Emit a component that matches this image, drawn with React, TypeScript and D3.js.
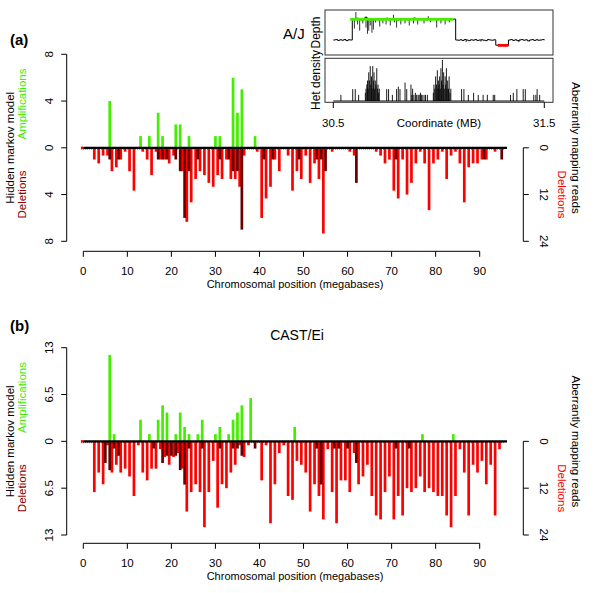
import React from "react";
import * as d3 from "d3";

const FONT = "'Liberation Sans', Arial, Helvetica, sans-serif";
const GREEN = "#44ee00";
const RED = "#ff0000";
const DARK = "#680000";
const DARK_TEXT = "#8b0000";

// ---------- Axis ticks ----------
const xTicks = [0, 10, 20, 30, 40, 50, 60, 70, 80, 90];
const ajLeftTicks = [8, 4, 0, -4, -8];
const castLeftTicks = [13, 6.5, 0, -6.5, -13];
const rightTicks = [0, 12, 24];
const insetTicks = [30.5, 31.5];

// ---------- A/J : [megabase, value] ----------
const ajAmplifications: [number, number][] = [
  [6, 4], [13, 1], [15, 1], [17, 3], [18, 1], [21, 2], [22, 2], [24, 1], [30, 1], [31, 1],
  [34, 6], [35, 3], [36, 5], [39, 1],
];
const ajHmmDeletions: [number, number][] = [
  [6, 1], [8, 1], [17, 1], [18, 1], [19, 1], [21, 1], [22, 2], [23, 6], [24, 2], [26, 1],
  [31, 1], [33, 1], [34, 2], [35, 2], [36, 7], [41, 1], [43, 1], [49, 1], [53, 1], [54, 1],
  [55, 2], [62, 3], [71, 1], [91, 1], [95, 1],
];
const ajReadDeletions: [number, number][] = [
  [2.5, 3], [3.5, 4], [4.5, 2], [5.5, 2], [6.5, 6], [7.5, 5], [8.5, 3], [9.5, 1], [10.5, 6], [11.5, 11],
  [13.5, 1], [14.5, 3], [15.5, 7], [16.5, 1], [17.5, 3], [18.5, 3], [19.5, 4], [20.5, 2],
  [22.5, 6], [23.5, 19], [24.5, 14], [25.5, 8], [26.5, 6], [27.5, 7], [28.5, 9], [29.5, 10], [30.5, 7],
  [31.5, 8], [32.5, 3], [33.5, 8], [34.5, 8], [35.5, 10], [36.5, 2],
  [39.5, 1], [40.5, 18], [41.5, 13], [42.5, 10], [43.5, 3], [44.5, 6],
  [46.5, 2], [47.5, 11], [48.5, 6], [49.5, 8], [50.5, 2], [51.5, 9], [52.5, 4], [53.5, 8], [54.5, 22],
  [56.5, 1], [60.5, 1], [61.5, 2],
  [66.5, 1], [67.5, 2], [68.5, 4], [69.5, 3], [70.5, 11], [71.5, 13], [72.5, 3], [73.5, 12], [74.5, 9],
  [75.5, 4], [76.5, 1], [77.5, 4], [78.5, 16], [79.5, 4], [80.5, 3], [81.5, 1], [82.5, 8], [83.5, 2],
  [84.5, 1], [85.5, 4], [86.5, 14], [87.5, 5], [88.5, 4], [89.5, 4], [90.5, 3], [91.5, 3], [93.5, 1],
];

// ---------- CAST/Ei ----------
const castAmplifications: [number, number][] = [
  [6, 12], [7, 1], [13, 3], [15, 1], [17, 3], [18, 5], [19, 4], [21, 1], [22, 4], [23, 2],
  [24, 1], [26, 1], [27, 3], [30, 1], [31, 2], [33, 1], [34, 3], [35, 4], [36, 5], [38, 6],
  [48, 2], [77, 1], [84, 1],
];
const castHmmDeletions: [number, number][] = [
  [5, 3], [6, 4], [7, 1], [8, 2], [16, 1], [18, 3], [19, 2], [20, 2], [21, 2], [22, 4],
  [23, 6], [24, 1], [27, 1], [31, 1], [34, 1], [35, 1], [36, 2], [39, 1], [53, 1], [54, 6],
  [57, 1], [58, 1], [60, 1], [62, 3], [71, 1], [74, 1],
];
const castReadDeletions: [number, number][] = [
  [2.5, 13], [3.5, 8], [4.5, 11], [5.5, 1], [6.5, 8], [7.5, 6], [8.5, 8], [9.5, 7], [10.5, 9], [11.5, 14],
  [12.5, 1], [13.5, 8], [14.5, 10], [15.5, 7], [16.5, 7], [17.5, 2], [18.5, 4], [19.5, 6], [20.5, 4], [21.5, 3],
  [22.5, 7], [23.5, 18], [24.5, 13], [25.5, 11], [26.5, 13], [27.5, 22], [28.5, 13], [29.5, 5], [30.5, 17],
  [31.5, 11], [32.5, 12], [33.5, 8], [34.5, 6], [35.5, 1], [36.5, 4], [37.5, 1],
  [40.5, 10], [41.5, 1], [42.5, 21], [43.5, 11], [44.5, 3], [45.5, 1], [46.5, 14], [47.5, 15], [48.5, 5],
  [49.5, 6], [50.5, 8], [51.5, 18], [52.5, 11], [53.5, 14], [54.5, 20], [55.5, 2], [56.5, 13], [57.5, 21],
  [58.5, 10], [59.5, 10], [60.5, 13], [61.5, 3], [62.5, 11], [63.5, 9], [64.5, 6], [65.5, 14], [66.5, 19],
  [67.5, 20], [68.5, 13], [69.5, 9], [70.5, 20], [71.5, 14], [72.5, 19], [73.5, 12], [74.5, 13], [75.5, 12],
  [76.5, 9], [77.5, 13], [78.5, 12], [79.5, 13], [80.5, 14], [81.5, 14], [82.5, 19], [83.5, 22], [84.5, 14],
  [85.5, 2], [86.5, 8], [87.5, 19], [88.5, 6], [89.5, 8], [90.5, 5], [91.5, 11], [92.5, 6], [93.5, 19], [94.5, 2],
];

// ---------- Inset (A/J, 30.5 - 31.5 MB) ----------
const depthStart = 30.5;
const depthStep = 0.01;
const depthValues = [
  1.0, 1.02, 0.98, 1.01, 0.99, 1.02, 0.97, 1.01, 1.0,
  2.02, 1.98, 2.05, 2.0, 1.97, 2.03, 2.1, 1.99, 2.04, 1.98,
  2.01, 2.03, 1.97, 2.0, 2.02, 1.99, 2.05, 1.98, 2.01, 2.0,
  2.03, 1.97, 2.02, 1.99, 2.04, 2.0, 1.98, 2.03, 2.01, 2.06,
  1.99, 2.02, 1.98, 2.0, 2.03, 1.97, 2.01, 2.02, 1.99, 2.04,
  1.98, 2.0, 2.03, 1.99, 2.01, 1.98, 2.02, 2.0, 2.01,
  1.0, 0.99, 1.01, 0.98, 1.02, 1.0, 0.97, 1.01, 0.99, 1.02,
  0.98, 1.0, 1.01, 0.99, 0.97, 1.02, 1.0, 0.99, 1.01,
  0.75, 0.73, 0.76, 0.74, 0.75, 0.74,
  1.0, 1.02, 0.98, 1.01, 0.97, 1.0, 1.02, 0.99, 1.01, 0.96,
  1.0, 1.02, 0.98, 1.01, 0.99, 1.0, 1.02, 0.99,
];
const depthSpikes: [number, number][] = [
  [30.6, 1.55], [30.607, 2.35], [30.615, 1.75], [30.625, 1.45], [30.64, 1.8], [30.655, 1.6], [30.662, 1.3],
  [30.668, 1.45], [30.675, 1.7], [30.683, 1.35], [30.69, 1.5], [30.7, 1.85], [30.72, 1.65], [30.735, 1.8],
  [30.75, 1.75], [30.77, 1.7], [30.785, 2.22], [30.79, 1.85], [30.8, 1.6], [30.82, 1.75], [30.84, 1.8],
  [30.86, 1.7], [30.88, 1.8], [30.9, 1.75], [30.93, 1.8], [30.95, 2.15], [30.96, 1.85], [30.99, 1.6],
  [31.01, 1.8], [31.03, 1.75], [31.05, 1.85], [31.13, 0.9], [31.2, 0.92], [31.38, 0.9], [31.43, 0.93],
];
const greenSegment = [30.58, 31.07];
const greenLevel = 2.0;
const redSegment = [31.28, 31.33];
const redLevel = 0.74;
const hetDensity: [number, number][] = [
  [30.536, 1.5], [30.592, 2.9], [30.604, 2.9], [30.62, 1.5], [30.652, 2], [30.655, 3], [30.659, 4],
  [30.662, 5], [30.665, 3], [30.668, 7], [30.671, 5], [30.675, 8.5], [30.678, 4], [30.681, 6],
  [30.684, 3], [30.687, 8.5], [30.69, 5], [30.693, 7], [30.696, 3], [30.699, 5], [30.702, 4],
  [30.706, 8], [30.709, 3], [30.712, 4], [30.715, 2], [30.718, 3], [30.753, 2.9], [30.762, 2.9],
  [30.78, 1.5], [30.8, 2.9], [30.808, 3.5], [30.816, 2.9], [30.84, 4.5], [30.848, 2.9], [30.868, 4],
  [30.872, 1.5], [30.876, 3], [30.882, 1.5], [30.889, 2], [30.895, 1.5], [30.902, 1.5], [30.907, 1.5],
  [30.913, 2], [30.917, 1.5], [30.921, 1.5], [30.93, 1.5], [30.937, 1.5], [30.946, 1.5],
  [30.974, 2], [30.977, 4], [30.981, 3], [30.985, 6], [30.989, 4], [30.993, 7.5], [30.996, 3],
  [30.998, 5], [31.001, 4], [31.004, 6], [31.007, 3], [31.01, 8], [31.013, 5], [31.017, 10],
  [31.02, 4], [31.023, 7], [31.026, 3], [31.03, 6], [31.033, 4], [31.036, 8], [31.039, 3],
  [31.042, 5], [31.046, 3], [31.049, 6], [31.053, 2], [31.057, 3], [31.108, 2.9], [31.119, 2.9],
  [31.14, 1.5], [31.165, 2], [31.187, 1.5], [31.21, 1.5], [31.23, 1.5], [31.258, 1.5], [31.265, 1.5],
  [31.34, 1.5], [31.353, 2], [31.37, 2.9], [31.4, 2.9], [31.41, 2.9], [31.45, 1.5], [31.46, 1.5],
  [31.466, 2.9], [31.478, 1.5],
];

type PanelProps = {
  amp: [number, number][];
  hmmDel: [number, number][];
  reads: [number, number][];
  leftMax: number;
  leftTicks: number[];
  top: number;
  bottom: number;
  xAxisY: number;
};

const LABEL_SIZE = 11.5;
const TICK_SIZE = 11.5;

function Panel({ amp, hmmDel, reads, leftMax, leftTicks, top, bottom, xAxisY }: PanelProps) {
  const x = d3.scaleLinear().domain([0, 90]).range([83.3, 479.7]);
  const yL = d3.scaleLinear().domain([-leftMax, leftMax]).range([bottom, top]);
  const zero = yL(0);
  const yR = d3.scaleLinear().domain([0, 24]).range([zero, bottom]);
  const bw = 2.7;
  const leftAxisX = 66.7;
  const rightAxisX = 523.3;
  return (
    <g fontFamily={FONT}>
      {reads.map(([p, v], i) => (
        <rect key={"r" + i} x={x(p) - bw / 2} y={yR(0)} width={bw} height={yR(v) - yR(0)} fill={RED} />
      ))}
      {hmmDel.map(([p, v], i) => (
        <rect key={"d" + i} x={x(p) - bw / 2} y={zero} width={bw} height={yL(-v) - zero} fill={DARK} />
      ))}
      {amp.map(([p, v], i) => (
        <rect key={"a" + i} x={x(p) - bw / 2} y={yL(v)} width={bw} height={zero - yL(v)} fill={GREEN} />
      ))}
      <line x1={x(-0.5)} x2={x(95.8)} y1={zero + 1.3} y2={zero + 1.3} stroke={RED} strokeWidth={1} strokeDasharray="1,1" />
      <rect x={x(-0.55)} y={zero - 1.2} width={2.4} height={2.4} fill={RED} />
      <line x1={x(0)} x2={x(96.2)} y1={zero} y2={zero} stroke="#000" strokeWidth={2.2} />

      <line x1={leftAxisX} x2={leftAxisX} y1={yL(leftMax)} y2={yL(-leftMax)} stroke="#000" strokeWidth={1} />
      {leftTicks.map((t, i) => (
        <g key={"lt" + i}>
          <line x1={leftAxisX - 5.5} x2={leftAxisX} y1={yL(t)} y2={yL(t)} stroke="#000" strokeWidth={1} />
          <text transform={`translate(49,${yL(t)}) rotate(-90)`} textAnchor="middle" dominantBaseline="central" fontSize={TICK_SIZE}>
            {String(Math.abs(t))}
          </text>
        </g>
      ))}
      <text transform={`translate(9.5,${zero}) rotate(-90)`} textAnchor="middle" dominantBaseline="central" fontSize={LABEL_SIZE}>
        Hidden markov model
      </text>
      <text transform={`translate(22,${yL(leftMax / 2) + 3}) rotate(-90)`} textAnchor="middle" dominantBaseline="central" fontSize={LABEL_SIZE} fill={GREEN}>
        Amplifications
      </text>
      <text transform={`translate(22,${yL(-leftMax / 2)}) rotate(-90)`} textAnchor="middle" dominantBaseline="central" fontSize={LABEL_SIZE} fill={DARK_TEXT}>
        Deletions
      </text>

      <line x1={rightAxisX} x2={rightAxisX} y1={yR(0)} y2={yR(24)} stroke="#000" strokeWidth={1} />
      {rightTicks.map((t, i) => (
        <g key={"rt" + i}>
          <line x1={rightAxisX} x2={rightAxisX + 5.5} y1={yR(t)} y2={yR(t)} stroke="#000" strokeWidth={1} />
          <text transform={`translate(544,${yR(t)}) rotate(90)`} textAnchor="middle" dominantBaseline="central" fontSize={TICK_SIZE}>
            {t}
          </text>
        </g>
      ))}
      <text transform={`translate(575.5,${zero}) rotate(90)`} textAnchor="middle" dominantBaseline="central" fontSize={LABEL_SIZE}>
        Aberrantly mapping reads
      </text>
      <text transform={`translate(562,${yR(12)}) rotate(90)`} textAnchor="middle" dominantBaseline="central" fontSize={LABEL_SIZE} fill={RED}>
        Deletions
      </text>

      <line x1={x(0)} x2={x(90)} y1={xAxisY} y2={xAxisY} stroke="#000" strokeWidth={1} />
      {xTicks.map((t) => (
        <g key={"xt" + t}>
          <line x1={x(t)} x2={x(t)} y1={xAxisY} y2={xAxisY + 5.5} stroke="#000" strokeWidth={1} />
          <text x={x(t)} y={xAxisY + 19.5} textAnchor="middle" dominantBaseline="central" fontSize={TICK_SIZE}>
            {t}
          </text>
        </g>
      ))}
      <text x={295} y={xAxisY + 32.5} textAnchor="middle" dominantBaseline="central" fontSize={11}>
        Chromosomal position (megabases)
      </text>
    </g>
  );
}

function Inset() {
  const x = d3.scaleLinear().domain([30.5, 31.5]).range([333.3, 544.3]);
  const yD = d3.scaleLinear().domain([1, 2]).range([40, 19.3]);
  const yH = d3.scaleLinear().domain([0, 10]).range([101, 60]);
  const line = d3
    .line<number>()
    .x((_, i) => x(depthStart + i * depthStep))
    .y((d) => yD(d))
    .curve(d3.curveStepAfter);
  const inHigh = (p: number) => p >= greenSegment[0] && p <= greenSegment[1];
  return (
    <g fontFamily={FONT}>
      <rect x={325} y={10} width={228} height={45} fill="none" stroke="#333" strokeWidth={1} />
      <rect x={325} y={58.3} width={228} height={44} fill="none" stroke="#333" strokeWidth={1} />
      <path d={line(depthValues) || ""} fill="none" stroke="#000" strokeWidth={1} />
      {depthSpikes.map(([p, v], i) => (
        <line key={"ds" + i} x1={x(p)} x2={x(p)} y1={yD(inHigh(p) ? 2 : 1)} y2={yD(v)} stroke="#000" strokeWidth={0.8} />
      ))}
      <line x1={x(greenSegment[0])} x2={x(greenSegment[1])} y1={yD(greenLevel)} y2={yD(greenLevel)} stroke={GREEN} strokeWidth={2.8} />
      <line x1={x(redSegment[0])} x2={x(redSegment[1])} y1={yD(redLevel)} y2={yD(redLevel)} stroke={RED} strokeWidth={2.8} />
      <line x1={x(30.5)} x2={x(31.5)} y1={yH(0)} y2={yH(0)} stroke="#000" strokeWidth={1} />
      {hetDensity.map(([p, v], i) => (
        <line key={"h" + i} x1={x(p)} x2={x(p)} y1={yH(0)} y2={yH(v)} stroke="#000" strokeWidth={0.9} />
      ))}
      {insetTicks.map((t) => (
        <g key={"it" + t}>
          <line x1={x(t)} x2={x(t)} y1={102.3} y2={108} stroke="#000" strokeWidth={1} />
          <text x={x(t)} y={123} textAnchor="middle" dominantBaseline="central" fontSize={TICK_SIZE}>
            {t}
          </text>
        </g>
      ))}
      <text x={439} y={123} textAnchor="middle" dominantBaseline="central" fontSize={11.5}>
        Coordinate (MB)
      </text>
      <text transform="translate(315.5,32.5) rotate(-90)" textAnchor="middle" dominantBaseline="central" fontSize={12}>
        Depth
      </text>
      <text transform="translate(315.5,80) rotate(-90)" textAnchor="middle" dominantBaseline="central" fontSize={12}>
        Het density
      </text>
      <text x={283} y={39} fontSize={15}>
        A/J
      </text>
    </g>
  );
}

export default function App() {
  return (
    <svg
      width={600}
      height={593}
      viewBox="0 0 600 593"
      style={{ position: "absolute", left: 0, top: 0, background: "#fff" }}
    >
      <rect x={0} y={0} width={600} height={593} fill="#fff" />
      <text x={10} y={45} fontFamily={FONT} fontWeight="bold" fontSize={15}>
        (a)
      </text>
      <text x={10} y={331} fontFamily={FONT} fontWeight="bold" fontSize={15}>
        (b)
      </text>
      <text x={297} y={340} fontFamily={FONT} fontSize={14} textAnchor="middle">
        CAST/Ei
      </text>
      <Panel
        amp={ajAmplifications}
        hmmDel={ajHmmDeletions}
        reads={ajReadDeletions}
        leftMax={8}
        leftTicks={ajLeftTicks}
        top={54.3}
        bottom={241.3}
        xAxisY={251.3}
      />
      <Panel
        amp={castAmplifications}
        hmmDel={castHmmDeletions}
        reads={castReadDeletions}
        leftMax={13}
        leftTicks={castLeftTicks}
        top={347.7}
        bottom={535}
        xAxisY={543.3}
      />
      <Inset />
    </svg>
  );
}
